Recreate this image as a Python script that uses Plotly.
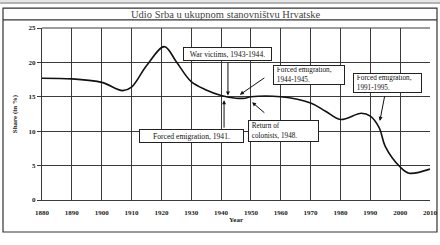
import plotly.graph_objects as go

years = [1880, 1890, 1900, 1907, 1910, 1915, 1921, 1925, 1930, 1935, 1940, 1945, 1948,
         1950, 1960, 1970, 1975, 1980, 1987, 1990, 1993, 1995, 2000, 2003, 2010]
share = [17.7, 17.6, 17.1, 15.9, 16.4, 19.5, 22.3, 20.1, 17.2, 16.0, 15.2, 14.8, 14.8,
         15.0, 15.0, 14.1, 12.9, 11.7, 12.6, 12.2, 10.5, 7.8, 4.8, 3.9, 4.5]
x_ticks = list(range(1880, 2011, 10))
y_ticks = [0, 5, 10, 15, 20, 25]

title_text = "Udio Srba u ukupnom stanovništvu Hrvatske"
notes = [
    # text, box x, box y, tail x, tail y, head x, head y
    ("War victims, 1943-1944.", 1942.1, 21.2, 1942.3, 20.2, 1942.3, 15.2),
    ("Forced emigration, 1941.", 1930.0, 9.3, 1941.0, 10.3, 1941.0, 14.5),
    ("&nbsp;Forced emigration,<br>&nbsp;1944-1945.", 1969.4, 18.2, 1955.0, 17.9, 1946.3, 15.3),
    ("&nbsp;Return of<br>&nbsp;colonists, 1948.", 1960.8, 10.0, 1955.0, 12.5, 1950.4, 14.2),
    ("&nbsp;Forced emigration,<br>&nbsp;1991-1995.", 1995.8, 17.0, 1994.9, 15.3, 1993.2, 11.5),
]
box_w = [85, 101, 68, 67, 65]
box_h = [10, 10, 16, 18, 16]
box_fs = [7.6, 7.6, 7.2, 7.2, 7.2]

serif = "Liberation Serif"
grid = "#3a3a3a"

fig = go.Figure()
fig.add_trace(go.Scatter(x=years, y=share, mode="lines",
                         line=dict(color="#111111", width=1.6, shape="spline", smoothing=1.0),
                         showlegend=False, hoverinfo="skip"))

annotations = []
for (text, bx, by, tx, ty, hx, hy), w, h, fs in zip(notes, box_w, box_h, box_fs):
    annotations.append(dict(x=hx, y=hy, ax=tx, ay=ty, xref="x", yref="y", axref="x", ayref="y",
                            text="", showarrow=True, arrowhead=2, arrowsize=0.8,
                            arrowwidth=1, arrowcolor="#111111"))
    annotations.append(dict(x=bx, y=by, xref="x", yref="y", text=text, showarrow=False,
                            xanchor="center", yanchor="middle",
                            align="left" if "<br>" in text else "center",
                            width=w, height=h,
                            bgcolor="white", bordercolor="#222222",
                            borderwidth=1, borderpad=1,
                            font=dict(family=serif, size=fs, color="#111111")))

annotations.append(dict(x=0.475, y=1.08, xref="paper", yref="paper", text=title_text,
                        xanchor="center", yanchor="middle", showarrow=False,
                        font=dict(family=serif, size=10.5, color="#444444")))

tick_font = dict(family=serif, size=7, color="#222222", weight="bold")

fig.update_layout(
    width=440, height=245,
    margin=dict(l=42, r=10, t=28, b=45),
    paper_bgcolor="white", plot_bgcolor="white",
    annotations=annotations,
    xaxis=dict(range=[1880, 2010], tickvals=x_ticks, showgrid=True, gridcolor=grid,
               gridwidth=1, zeroline=False, showline=True, linecolor=grid, linewidth=1,
               ticks="", automargin=False, ticklabelstandoff=6,
               tickfont=tick_font,
               title=dict(text="<b>Year</b>", font=dict(family=serif, size=7, color="#222222"),
                          standoff=0)),
    yaxis=dict(range=[0, 25], tickvals=y_ticks, showgrid=True, gridcolor=grid,
               gridwidth=1, zeroline=False, showline=True, linecolor=grid, linewidth=1,
               ticks="outside", ticklen=4, tickcolor=grid, automargin=False,
               tickfont=tick_font,
               title=dict(text="<b>Share (in %)</b>", font=dict(family=serif, size=7, color="#222222"),
                          standoff=10)),
    shapes=[
        dict(type="rect", xref="paper", yref="paper", x0=-1.0, x1=2.0, y0=1.145, y1=1.3,
             fillcolor="#e6e6e6", line=dict(width=0), layer="below"),
        dict(type="rect", xref="paper", yref="paper", x0=-0.1005, x1=1.018, y0=-0.186, y1=1.116,
             line=dict(color="#333333", width=1.2), layer="below"),
        dict(type="line", xref="paper", yref="paper", x0=-0.1005, x1=1.018, y0=1.047, y1=1.047,
             line=dict(color="#333333", width=1.2)),
        dict(type="line", xref="paper", yref="paper", x0=-0.108, x1=1.03, y0=1.145, y1=1.145,
             line=dict(color="#777777", width=1)),
        dict(type="line", xref="paper", yref="paper", x0=0, x1=1.0, y0=1.0, y1=1.0,
             line=dict(color=grid, width=1)),
    ],
)

fig.write_html("out.html", config={"displayModeBar": False},
               post_script="document.body.style.margin='0px';document.body.style.padding='0px';")
